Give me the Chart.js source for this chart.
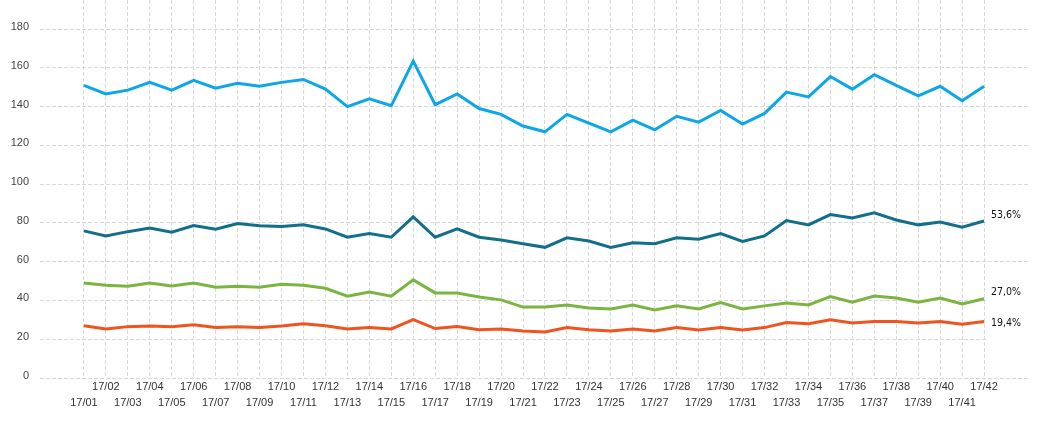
<!DOCTYPE html>
<html>
<head>
<meta charset="utf-8">
<script src="https://cdn.jsdelivr.net/npm/chart.js@4/dist/chart.umd.min.js"></script>
<style>
  html, body { margin: 0; padding: 0; background: #fff; }
  #wrap { width: 1037px; height: 429px; }
</style>
</head>
<body>
<div id="wrap"><canvas id="chart" width="1037" height="429"></canvas></div>
<script>
const weeks = [];
for (let w = 1; w <= 42; w++) weeks.push('17/' + String(w).padStart(2, '0'));

const yTicks = [0, 20, 40, 60, 80, 100, 120, 140, 160, 180];

const totalSeries = [151, 146.5, 148.5, 152.5, 148.5, 153.5, 149.5, 152, 150.5, 152.5, 154, 149, 140, 144, 140.5,
  163.5, 141, 146.5, 139, 136, 130, 127, 136, 131.5, 127, 133, 128, 135, 132, 138, 131, 136.5, 147.5, 145,
  155.5, 149, 156.5, 151, 145.5, 150.5, 143, 150.5];
const darkSeries = [75.9, 73.3, 75.5, 77.4, 75.2, 78.6, 76.7, 79.7, 78.6, 78.1, 79.1, 76.9, 72.6, 74.5, 72.6,
  83.1, 72.6, 76.9, 72.6, 71.2, 69.3, 67.4, 72.3, 70.7, 67.4, 69.8, 69.3, 72.3, 71.6, 74.5, 70.5, 73.3, 81.2, 79.0,
  84.3, 82.6, 85.2, 81.5, 79.0, 80.5, 77.8, 81.0];
const greenSeries = [49.0, 47.8, 47.3, 49.0, 47.5, 49.0, 46.8, 47.3, 46.8, 48.3, 47.8, 46.3, 42.2, 44.4, 42.2,
  50.6, 43.9, 43.9, 41.8, 40.3, 36.6, 36.6, 37.7, 36.1, 35.6, 37.7, 35.1, 37.2, 35.6, 38.9, 35.6, 37.2, 38.7, 37.7,
  42.0, 39.1, 42.3, 41.3, 39.1, 41.3, 38.2, 40.9];
const orangeSeries = [27.0, 25.3, 26.5, 26.8, 26.5, 27.5, 26.0, 26.5, 26.0, 26.8, 28.0, 27.0, 25.3, 26.0, 25.3,
  30.1, 25.5, 26.5, 24.9, 25.3, 24.3, 23.7, 26.0, 24.9, 24.3, 25.3, 24.3, 26.0, 24.8, 26.0, 24.8, 26.0, 28.6, 28.0,
  30.1, 28.4, 29.2, 29.2, 28.4, 29.2, 27.7, 29.2];

// end-of-line share labels, for dataset 1, 2, 3
const endLabels = ['53,6%', '27,0%', '19,4%'];

const toPoints = arr => arr.map((v, i) => ({ x: i, y: v }));

function line(data, color) {
  return { data: toPoints(data), borderColor: color, borderWidth: 3, pointRadius: 0, tension: 0, fill: false };
}

const endLabelPlugin = {
  id: 'endLabels',
  afterDatasetsDraw(chart) {
    const ctx = chart.ctx;
    const nudge = [-6, -6, 2];
    ctx.save();
    ctx.font = '10.5px "DejaVu Sans Condensed", "DejaVu Sans", sans-serif';
    ctx.textBaseline = 'middle';
    endLabels.forEach((txt, k) => {
      const meta = chart.getDatasetMeta(k + 1);
      const pt = meta.data[meta.data.length - 1];
      const cy = pt.y + nudge[k];
      ctx.fillStyle = '#fff';
      ctx.fillRect(pt.x + 3, cy - 10, 50, 28);
      ctx.fillStyle = '#111';
      ctx.fillText(txt, pt.x + 7, cy);
    });
    ctx.restore();
  }
};

const gridColor = '#d9d9d9';

// drop the automatic label padding so the plot fills the canvas
function noPad(s) {
  s.paddingTop = 0; s.paddingBottom = 0; s.paddingLeft = 0; s.paddingRight = 0;
}

new Chart(document.getElementById('chart'), {
  type: 'line',
  data: {
    datasets: [
      line(totalSeries, '#0DA6E6'),
      line(darkSeries, '#126F8C'),
      line(greenSeries, '#7AB541'),
      line(orangeSeries, '#F0531E')
    ]
  },
  options: {
    responsive: false,
    animation: false,
    layout: { padding: { left: 0, right: 9, top: 0, bottom: 0 } },
    plugins: { legend: { display: false }, tooltip: { enabled: false } },
    scales: {
      x: {
        type: 'linear',
        min: -2,
        max: 43,
        afterBuildTicks: s => { s.ticks = weeks.map((_, i) => ({ value: i })); },
        afterFit: s => { s.height = 51; noPad(s); },
        grid: { color: gridColor, drawTicks: false },
        border: { display: false, dash: [4, 2] },
        ticks: {
          autoSkip: false,
          maxRotation: 0,
          padding: 1,
          color: '#333',
          font: { family: '"Liberation Sans", Arial, sans-serif', size: 11, lineHeight: 16 / 11 },
          callback: v => {
            const lbl = weeks[v];
            if (lbl === undefined) return '';
            return v % 2 === 0 ? ['', lbl] : [lbl, ''];
          }
        }
      },
      y: {
        min: 0,
        max: 195,
        afterBuildTicks: s => { s.ticks = yTicks.map(v => ({ value: v })); },
        afterFit: s => { s.width = 40; noPad(s); },
        grid: { color: gridColor, drawTicks: false },
        border: { display: false, dash: [4, 2] },
        ticks: {
          padding: 11,
          labelOffset: -2,
          color: '#444',
          font: { family: '"Liberation Sans", Arial, sans-serif', size: 11 }
        }
      }
    }
  },
  plugins: [endLabelPlugin]
});
</script>
</body>
</html>
